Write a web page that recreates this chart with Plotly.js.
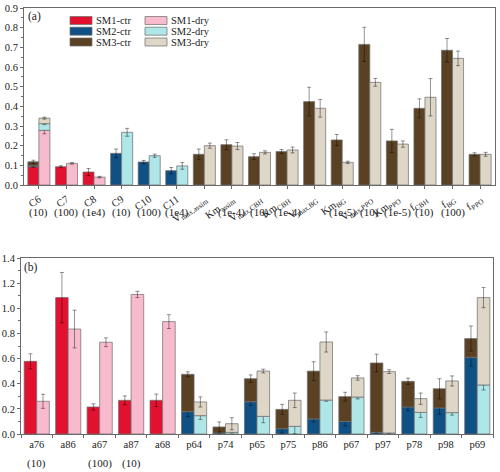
<!DOCTYPE html>
<html>
<head>
<meta charset="utf-8">
<script src="https://cdn.plot.ly/plotly-3.0.1.min.js"></script>
<style>html,body{margin:0;padding:0;background:#fff;}#chart{width:500px;height:472px;}</style>
</head>
<body>
<div id="chart"></div>
<script>
// ---------- Panel (a) ----------
var catsA = ['C6','C7','C8','C9','C10','C11','Vmax,assim','Km,assim','Vmax,CBH','Km,CBH','Vmax,BG','Km,BG','Vmax,PPO','Km,PPO','fCBH','fBG','fPPO'];
var tickTextA = ['C6','C7','C8','C9','C10','C11','V<sub>max,assim</sub>','Km<sub>assim</sub>','V<sub>max,CBH</sub>','Km<sub>CBH</sub>','V<sub>max,BG</sub>','Km<sub>BG</sub>','V<sub>max,PPO</sub>','Km<sub>PPO</sub>','f<sub>CBH</sub>','f<sub>BG</sub>','f<sub>PPO</sub>'];
var multA = ['(10)','(100)','(1e4)','(10)','(100)','(1e4)','','(1e-4)','(10)','(1e-4)','','(1e-5)','(10)','(1e-5)','(10)','(100)',''];

var sm1CtrA = [0.093,0.093,0.066,null,null,null,null,null,null,null,null,null,null,null,null,null,null];
var sm1CtrErrA = [0.004,0.005,0.018,null,null,null,null,null,null,null,null,null,null,null,null,null,null];
var sm2CtrA = [0.005,null,null,0.161,0.117,0.073,null,null,null,null,null,null,null,null,null,null,null];
var sm2CtrErrA = [0.002,null,null,0.022,0.008,0.016,null,null,null,null,null,null,null,null,null,null,null];
var sm3CtrA = [0.020,null,null,null,null,null,0.156,0.205,0.144,0.170,0.424,0.229,0.715,0.224,0.390,0.685,0.156];
var sm3CtrErrA = [0.008,null,null,null,null,null,0.027,0.025,0.015,0.010,0.073,0.028,0.087,0.059,0.048,0.060,0.008];

var sm1DryA = [0.278,0.110,0.040,null,null,null,null,null,null,null,null,null,null,null,null,null,null];
var sm1DryErrA = [0.018,0.004,0.004,null,null,null,null,null,null,null,null,null,null,null,null,null,null];
var sm2DryA = [0.034,null,null,0.268,0.149,0.097,null,null,null,null,null,null,null,null,null,null,null];
var sm2DryErrA = [0.005,null,null,0.020,0.008,0.017,null,null,null,null,null,null,null,null,null,null,null];
var sm3DryA = [0.028,null,null,null,null,null,0.200,0.198,0.166,0.178,0.390,0.115,0.522,0.208,0.446,0.644,0.156];
var sm3DryErrA = [0.005,null,null,null,null,null,0.013,0.018,0.008,0.015,0.045,0.006,0.020,0.016,0.095,0.037,0.010];

// ---------- Panel (b) ----------
var catsB = ['a76','a86','a67','a87','a68','p64','p74','p65','p75','p86','p67','p97','p78','p98','p69'];
var multB = ['(10)','','(100)','(10)','','','','','','','','','','',''];

var sm1CtrB = [0.578,1.085,0.215,0.268,0.268,null,null,null,null,null,null,null,null,null,null];
var sm1CtrErrB = [0.060,0.200,0.025,0.035,0.050,null,null,null,null,null,null,null,null,null,null];
var sm2CtrB = [null,null,null,null,null,0.178,0.008,0.257,0.042,0.120,0.100,0.013,0.215,0.207,0.610];
var sm2CtrErrB = [null,null,null,null,null,0.040,0.005,0.030,0.035,0.025,0.035,0.005,0.030,0.050,0.070];
var sm3CtrB = [null,null,null,null,null,0.297,0.048,0.183,0.154,0.380,0.197,0.552,0.204,0.153,0.149];
var sm3CtrErrB = [null,null,null,null,null,0.020,0.040,0.030,0.040,0.075,0.035,0.070,0.025,0.080,0.100];

var sm1DryB = [0.260,0.835,0.730,1.110,0.894,null,null,null,null,null,null,null,null,null,null];
var sm1DryErrB = [0.056,0.150,0.035,0.025,0.055,null,null,null,null,null,null,null,null,null,null];
var sm2DryB = [null,null,null,null,null,0.146,0.013,0.140,0.061,0.270,0.294,0.008,0.172,0.170,0.390];
var sm2DryErrB = [null,null,null,null,null,0.030,0.005,0.050,0.060,0.010,0.015,0.005,0.040,0.020,0.040];
var sm3DryB = [null,null,null,null,null,0.109,0.069,0.361,0.207,0.462,0.152,0.488,0.109,0.252,0.695];
var sm3DryErrB = [null,null,null,null,null,0.040,0.048,0.015,0.058,0.080,0.018,0.015,0.045,0.040,0.080];

var seriesNames = ['SM1-ctr','SM2-ctr','SM3-ctr','SM1-dry','SM2-dry','SM3-dry'];
var seriesColors = ['#E1112F','#0F5185','#5B4123','#F8BBCD','#AFE6E7','#DED6C7'];

var FONT = 'Liberation Serif';

function baseOf(){
  var arrs = Array.prototype.slice.call(arguments);
  var n = arrs.length ? arrs[0].length : 0;
  var out = [];
  for (var i = 0; i < n; i++) {
    var s = 0;
    arrs.forEach(function(a){ s += (a[i] || 0); });
    out.push(s);
  }
  return out;
}

function mk(cats, vals, errs, base, colorIdx, isDry, xa, ya){
  return {
    type:'bar', x:cats, y:vals, base:base,
    offset: isDry ? 0 : -0.4, width:0.4,
    xaxis:xa, yaxis:ya,
    name: seriesNames[colorIdx], showlegend:false,
    marker:{color:seriesColors[colorIdx], line:{color:'rgba(110,110,110,0.9)', width:0.8}},
    error_y:{type:'data', array:errs, visible:true, color:'rgba(0,0,0,0.42)', thickness:1, width:2},
    hoverinfo:'skip'
  };
}

var zeroA = catsA.map(function(){return 0;});
var zeroB = catsB.map(function(){return 0;});

var traces = [
  mk(catsA, sm1CtrA, sm1CtrErrA, zeroA, 0, false, 'x', 'y'),
  mk(catsA, sm2CtrA, sm2CtrErrA, baseOf(sm1CtrA), 1, false, 'x', 'y'),
  mk(catsA, sm3CtrA, sm3CtrErrA, baseOf(sm1CtrA, sm2CtrA), 2, false, 'x', 'y'),
  mk(catsA, sm1DryA, sm1DryErrA, zeroA, 3, true, 'x', 'y'),
  mk(catsA, sm2DryA, sm2DryErrA, baseOf(sm1DryA), 4, true, 'x', 'y'),
  mk(catsA, sm3DryA, sm3DryErrA, baseOf(sm1DryA, sm2DryA), 5, true, 'x', 'y'),
  mk(catsB, sm1CtrB, sm1CtrErrB, zeroB, 0, false, 'x2', 'y2'),
  mk(catsB, sm2CtrB, sm2CtrErrB, baseOf(sm1CtrB), 1, false, 'x2', 'y2'),
  mk(catsB, sm3CtrB, sm3CtrErrB, baseOf(sm1CtrB, sm2CtrB), 2, false, 'x2', 'y2'),
  mk(catsB, sm1DryB, sm1DryErrB, zeroB, 3, true, 'x2', 'y2'),
  mk(catsB, sm2DryB, sm2DryErrB, baseOf(sm1DryB), 4, true, 'x2', 'y2'),
  mk(catsB, sm3DryB, sm3DryErrB, baseOf(sm1DryB, sm2DryB), 5, true, 'x2', 'y2')
];

// pixel helpers for layout positions
var ML = 20, MR = 5, MT = 8, MB = 38, W = 500, H = 472;
function px(x){ return (x - ML) / (W - ML - MR); }
function py(y){ return (H - MB - y) / (H - MT - MB); }

var axLine = '#6a6a6a';
var tickFont = {family:FONT, size:10.5, color:'#222'};

var annotations = [];
var shapes = [];
catsA.forEach(function(c, i){
  if (multA[i]) annotations.push({xref:'x', yref:'paper', x:c, y:py(212), text:multA[i], showarrow:false, font:{family:FONT, size:11, color:'#222'}, yanchor:'middle'});
});
catsB.forEach(function(c, i){
  if (multB[i]) annotations.push({xref:'x2', yref:'paper', x:c, y:py(463), text:multB[i], showarrow:false, font:{family:FONT, size:11, color:'#222'}, yanchor:'middle'});
});
annotations.push({xref:'paper', yref:'paper', x:px(26), y:py(17), text:'(a)', showarrow:false, xanchor:'left', yanchor:'middle', font:{family:FONT, size:11.5, color:'#222'}});
annotations.push({xref:'paper', yref:'paper', x:px(22), y:py(268), text:'(b)', showarrow:false, xanchor:'left', yanchor:'middle', font:{family:FONT, size:11.5, color:'#222'}});

// manual legend (2 columns x 3 rows)
var legCols = [70, 145];
var legRows = [20.5, 31.2, 42];
seriesNames.forEach(function(nm, k){
  var col = k < 3 ? 0 : 1, row = k % 3;
  var x0 = legCols[col], yc = legRows[row];
  shapes.push({type:'rect', xref:'paper', yref:'paper', x0:px(x0), x1:px(x0+22), y0:py(yc+4), y1:py(yc-4),
    fillcolor:seriesColors[k], line:{color:'rgba(110,110,110,0.9)', width:0.8}});
  annotations.push({xref:'paper', yref:'paper', x:px(x0+24), y:py(yc), text:nm, showarrow:false, xanchor:'left', yanchor:'middle',
    font:{family:FONT, size:10.5, color:'#222'}});
});

var layout = {
  width:W, height:H,
  margin:{l:ML, r:MR, t:MT, b:MB},
  paper_bgcolor:'#fff', plot_bgcolor:'#fff',
  barmode:'overlay',
  showlegend:false,
  font:{family:FONT, size:10.5, color:'#222'},
  xaxis:{
    domain:[px(24), 1], anchor:'y', type:'category',
    range:[-0.54, 16.54],
    tickmode:'array', tickvals:catsA, ticktext:tickTextA, tickangle:-35,
    ticks:'outside', ticklen:3, tickcolor:axLine,
    showline:true, linecolor:axLine, linewidth:1, mirror:true,
    showgrid:false, zeroline:false, tickfont:tickFont, automargin:false
  },
  yaxis:{
    domain:[py(185), py(8)], anchor:'x',
    range:[0, 0.9], dtick:0.1, tickformat:'.1f',
    ticks:'outside', ticklen:3, tickcolor:axLine,
    minor:{dtick:0.05, ticks:'outside', ticklen:2, tickcolor:axLine},
    showline:true, linecolor:axLine, linewidth:1, mirror:true,
    showgrid:false, zeroline:false, tickfont:tickFont, automargin:false
  },
  xaxis2:{
    domain:[px(21), px(493)], anchor:'y2', type:'category',
    range:[-0.5, 14.5],
    tickson:'boundaries', ticks:'outside', ticklen:3, tickcolor:axLine,
    showline:true, linecolor:axLine, linewidth:1, mirror:true,
    showgrid:false, zeroline:false, tickfont:tickFont, tickangle:0, automargin:false
  },
  yaxis2:{
    domain:[0, py(258)], anchor:'x2',
    range:[0, 1.4], dtick:0.2, tickformat:'.1f',
    ticks:'outside', ticklen:3, tickcolor:axLine,
    minor:{dtick:0.1, ticks:'outside', ticklen:2, tickcolor:axLine},
    showline:true, linecolor:axLine, linewidth:1, mirror:true,
    showgrid:false, zeroline:false, tickfont:tickFont, automargin:false
  },
  annotations:annotations,
  shapes:shapes
};

Plotly.newPlot('chart', traces, layout, {displayModeBar:false, staticPlot:true});
</script>
</body>
</html>
